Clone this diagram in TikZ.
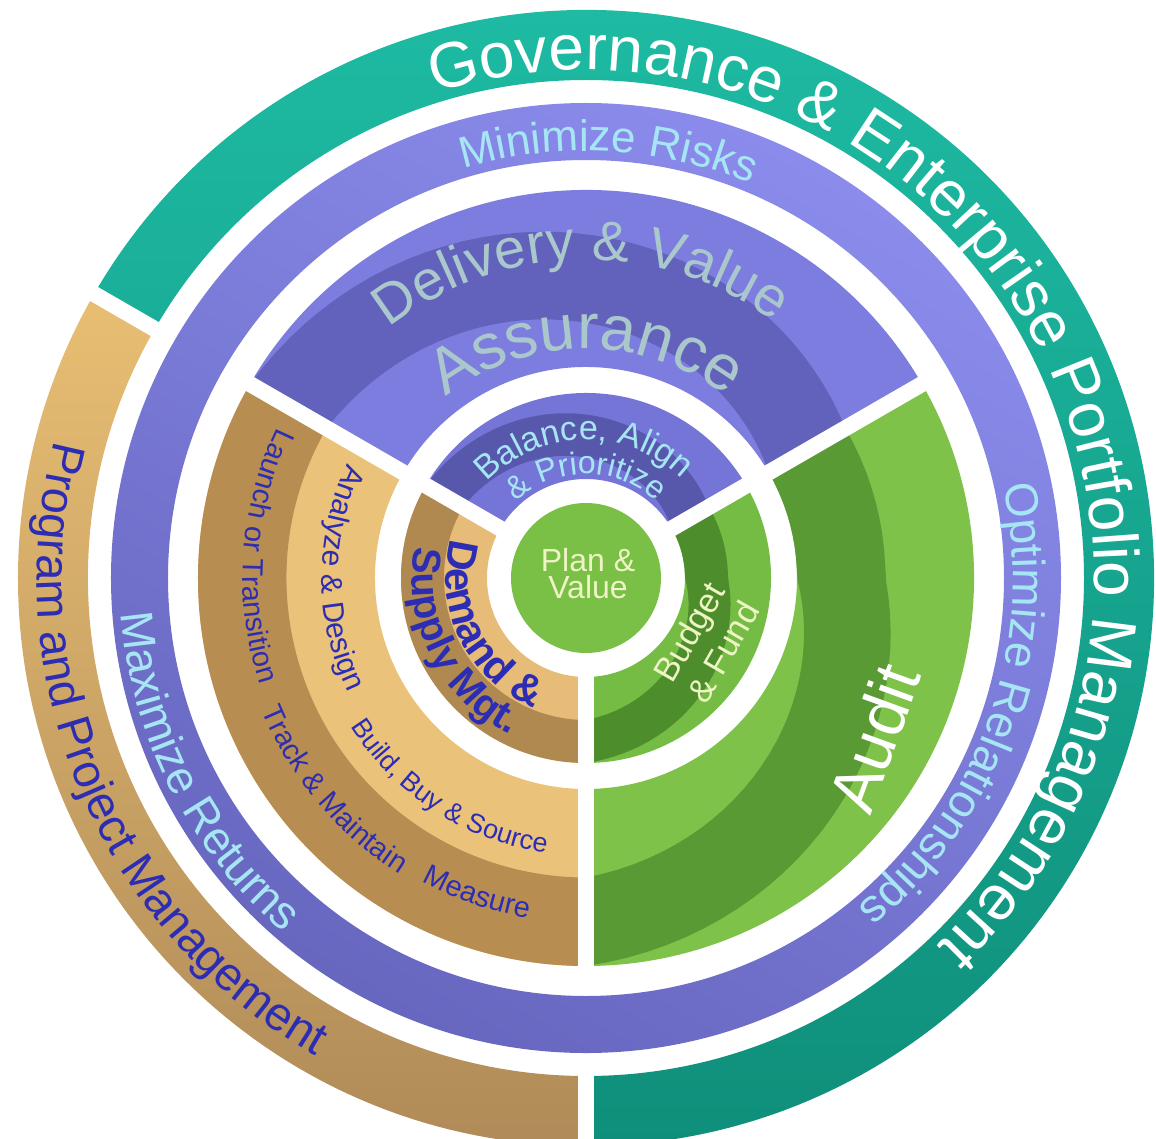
\documentclass[tikz,border=0pt]{standalone}
\usepackage{fontspec}
\setmainfont{Liberation Sans}
\usetikzlibrary{decorations.text}

\definecolor{tealA}{HTML}{1FBDA5}
\definecolor{tealB}{HTML}{0F8F7B}
\definecolor{sandA}{HTML}{E8BE73}
\definecolor{sandB}{HTML}{B08B58}
\definecolor{lavA}{HTML}{8B8BEC}
\definecolor{lavB}{HTML}{6767C0}
\definecolor{purL}{HTML}{7D7DDF}
\definecolor{purD}{HTML}{6262BC}
\definecolor{tanL}{HTML}{EBC27A}
\definecolor{tanD}{HTML}{B78D52}
\definecolor{grnL}{HTML}{7FC24A}
\definecolor{grnD}{HTML}{5A9A34}
\definecolor{ipurL}{HTML}{7575D8}
\definecolor{ipurD}{HTML}{5757AC}
\definecolor{itanL}{HTML}{E6BC78}
\definecolor{itanD}{HTML}{AF8950}
\definecolor{igrnL}{HTML}{75BC45}
\definecolor{igrnD}{HTML}{4E8D2C}
\definecolor{core}{HTML}{7ABF46}
\definecolor{navy}{HTML}{2D2DB4}
\definecolor{cyan}{HTML}{A6E6F4}
\definecolor{pale}{HTML}{EEF5C4}
\definecolor{haze}{HTML}{AAC8CC}

\newcommand{\fsz}[1]{\fontsize{#1}{#1}\selectfont}

\begin{document}
\begin{tikzpicture}[
  x=1pt, y=1pt,
  declare function={tg(\a)=min(1,max(0,(\a)*(-1)/90)); tp(\a)=((\a)-30)/120;},
  gap/.style={draw=white, line width=16pt},
  ringtext/.style n args={3}{decorate, decoration={text along path, text align=center,
    text color=#1, text={|#2|#3}}}
]
  \useasboundingbox (-586,-560) rectangle (570,578);
  \fill[white] (-586,-560) rectangle (570,578);
  \clip (-586,-560) rectangle (570,578);

  % outer ring
  \path[top color=tealA, bottom color=tealB]
    (-90:498) arc[start angle=-90, end angle=150, radius=498]
    -- (150:568) arc[start angle=150, end angle=-90, radius=568] -- cycle;
  \path[top color=sandA, bottom color=sandB]
    (150:498) arc[start angle=150, end angle=270, radius=498]
    -- (270:568) arc[start angle=270, end angle=150, radius=568] -- cycle;

  % lavender ring
  \path[top color=lavA, bottom color=lavB, shading angle=-30, even odd rule]
    (0,0) circle[radius=475] (0,0) circle[radius=418];

  % middle ring
  \fill[purL] (30:211) arc[start angle=30, end angle=150, radius=211]
    -- (150:388) arc[start angle=150, end angle=30, radius=388] -- cycle;
  \fill[purD] plot[domain=30:150, samples=40] (\x:{211+88.5*tp(\x)})
    -- plot[domain=150:30, samples=40] (\x:{299.5+88.5*tp(\x)}) -- cycle;
  \fill[tanL] (150:211) arc[start angle=150, end angle=270, radius=211]
    -- (270:388) arc[start angle=270, end angle=150, radius=388] -- cycle;
  \fill[tanD] (150:299.5) arc[start angle=150, end angle=270, radius=299.5]
    -- (270:388) arc[start angle=270, end angle=150, radius=388] -- cycle;
  \fill[grnL] (-90:211) arc[start angle=-90, end angle=30, radius=211]
    -- (30:388) arc[start angle=30, end angle=-90, radius=388] -- cycle;
  \fill[grnD] plot[domain=30:-90, samples=40] (\x:{211+88.5*tg(\x)})
    -- plot[domain=-90:30, samples=40] (\x:{299.5+88.5*tg(\x)}) -- cycle;

  % inner ring
  \fill[ipurL] (30:99) arc[start angle=30, end angle=150, radius=99]
    -- (150:185) arc[start angle=150, end angle=30, radius=185] -- cycle;
  \fill[ipurD] plot[domain=30:150, samples=40] (\x:{99+43*tp(\x)})
    -- plot[domain=150:30, samples=40] (\x:{142+43*tp(\x)}) -- cycle;
  \fill[itanL] (150:99) arc[start angle=150, end angle=270, radius=99]
    -- (270:185) arc[start angle=270, end angle=150, radius=185] -- cycle;
  \fill[itanD] (150:142) arc[start angle=150, end angle=270, radius=142]
    -- (270:185) arc[start angle=270, end angle=150, radius=185] -- cycle;
  \fill[igrnL] (-90:99) arc[start angle=-90, end angle=30, radius=99]
    -- (30:185) arc[start angle=30, end angle=-90, radius=185] -- cycle;
  \fill[igrnD] plot[domain=30:-90, samples=40] (\x:{99+43*tg(\x)})
    -- plot[domain=-90:30, samples=40] (\x:{142+43*tg(\x)}) -- cycle;

  \fill[core] (0,0) circle[radius=75];

  % separators
  \foreach \a in {30,150,270}
    \draw[gap] (\a:80) -- (\a:400);
  \foreach \a in {150,270}
    \draw[gap] (\a:488) -- (\a:580);

  % labels on the rings
  \path[ringtext={white}{\fsz{64}}{Governance {\&} Enterprise Portfolio Management}]
    (130.5:508) arc[start angle=130.5, end angle=-69.5, radius=508];
  \path[ringtext={navy}{\fsz{47}}{Program and Project Management}]
    (113:549) arc[start angle=113, end angle=293, radius=549];

  \path[ringtext={cyan}{\fsz{44}}{Minimize Risks}]
    (177:427) arc[start angle=177, end angle=-3, radius=427];
  \path[ringtext={cyan}{\fsz{46}}{Optimize Relationships}]
    (71:427) arc[start angle=71, end angle=-109, radius=427];
  \path[ringtext={cyan}{\fsz{46}}{Maximize Returns}]
    (117:466) arc[start angle=117, end angle=297, radius=466];

  \path[ringtext={haze}{\fsz{56}}{Delivery {\&} Value}]
    (181:318) arc[start angle=181, end angle=1, radius=318];
  \path[ringtext={haze}{\fsz{64}}{Assurance}]
    (180:229) arc[start angle=180, end angle=0, radius=229];

  \path[ringtext={navy}{\fsz{29}}{Launch or Transition}]
    (86:343) arc[start angle=86, end angle=266, radius=343];
  \path[ringtext={navy}{\fsz{29}}{Track {\&} Maintain}]
    (130:350) arc[start angle=130, end angle=310, radius=350];
  \path[ringtext={navy}{\fsz{29}}{Measure}]
    (161:345) arc[start angle=161, end angle=341, radius=345];
  \path[ringtext={navy}{\fsz{30}}{Analyze {\&} Design}]
    (90:264) arc[start angle=90, end angle=270, radius=264];
  \path[ringtext={navy}{\fsz{27}}{Build, Buy {\&} Source}]
    (147:278) arc[start angle=147, end angle=327, radius=278];

  \path[ringtext={cyan}{\fsz{34}}{Balance, Align}]
    (181:138) arc[start angle=181, end angle=1, radius=138];
  \path[ringtext={cyan}{\fsz{32}}{{\&} Prioritize}]
    (180:104) arc[start angle=180, end angle=0, radius=104];

  \path[ringtext={navy}{\fsz{42}\bfseries}{Demand {\&}}]
    (116:140) arc[start angle=116, end angle=296, radius=140];
  \path[ringtext={navy}{\fsz{40}\bfseries}{Supply Mgt.}]
    (117:174) arc[start angle=117, end angle=297, radius=174];

  \node[rotate=60, inner sep=0, align=center, text=pale,
        font=\fontsize{34}{39}\selectfont] (fund) at (120,-64) {Budget\\\& Fund};
  \node[rotate=70, inner sep=0, text=white, font=\fsz{66}] (audit) at (288,-160) {Audit};
  \node[inner sep=0, align=center, text=pale,
        font=\fontsize{32}{27}\selectfont] (plan) at (2,4) {Plan \&\\Value};
\end{tikzpicture}
\end{document}
